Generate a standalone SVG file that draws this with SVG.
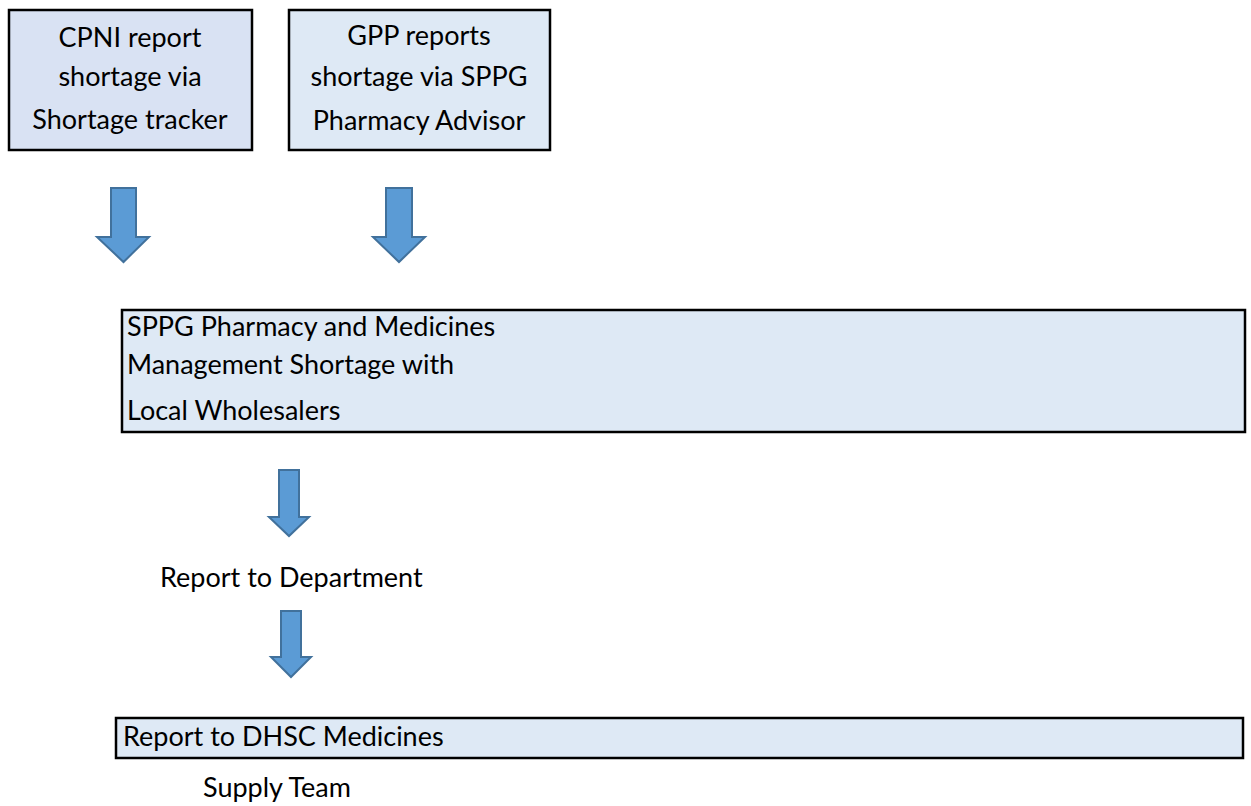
<svg xmlns="http://www.w3.org/2000/svg" width="1251" height="806" viewBox="0 0 1251 806">
  <style>
    .box { stroke: #000; stroke-width: 2.5; }
    .lbl { font-family: Lato, "Open Sans", "Liberation Sans", sans-serif; font-size: 27px; fill: #000; }
    .mid { text-anchor: middle; }
    .arrow { fill: #5B9BD5; stroke: #41719C; stroke-width: 2; stroke-linejoin: miter; }
  </style>
  <rect width="1251" height="806" fill="#fff"/>

  <g id="cpni">
    <rect class="box" x="9" y="10" width="243" height="140" fill="#D9E2F3"/>
    <text class="lbl mid" x="130" y="47">CPNI report</text>
    <text class="lbl mid" x="130" y="86">shortage via</text>
    <text class="lbl mid" x="130" y="129">Shortage tracker</text>
  </g>

  <g id="gpp">
    <rect class="box" x="289" y="10" width="261" height="140" fill="#DEE9F5"/>
    <text class="lbl mid" x="419" y="45">GPP reports</text>
    <text class="lbl mid" x="419" y="86">shortage via SPPG</text>
    <text class="lbl mid" x="419" y="130">Pharmacy Advisor</text>
  </g>

  <g id="sppg">
    <rect class="box" x="122" y="310" width="1123" height="122" fill="#DEE9F5"/>
    <text class="lbl" x="127" y="336">SPPG Pharmacy and Medicines</text>
    <text class="lbl" x="127" y="374">Management Shortage with</text>
    <text class="lbl" x="127" y="420">Local Wholesalers</text>
  </g>

  <g id="department">
    <text class="lbl" x="160" y="587">Report to Department</text>
  </g>

  <g id="dhsc">
    <rect class="box" x="116" y="718" width="1127" height="40" fill="#DEE9F5"/>
    <text class="lbl" x="123" y="746">Report to DHSC Medicines</text>
    <text class="lbl" x="203" y="797">Supply Team</text>
  </g>

  <g id="connectors">
    <polygon class="arrow" points="111,188 136,188 136,237 149,237 123.5,262 97,237 111,237"/>
    <polygon class="arrow" points="386,188 412,188 412,237 425,237 399,262 373,237 386,237"/>
    <polygon class="arrow" points="279,470 299,470 299,517 309,517 289,536 269,517 279,517"/>
    <polygon class="arrow" points="281,611 301,611 301,657 311,657 291,677 271,657 281,657"/>
  </g>
</svg>
